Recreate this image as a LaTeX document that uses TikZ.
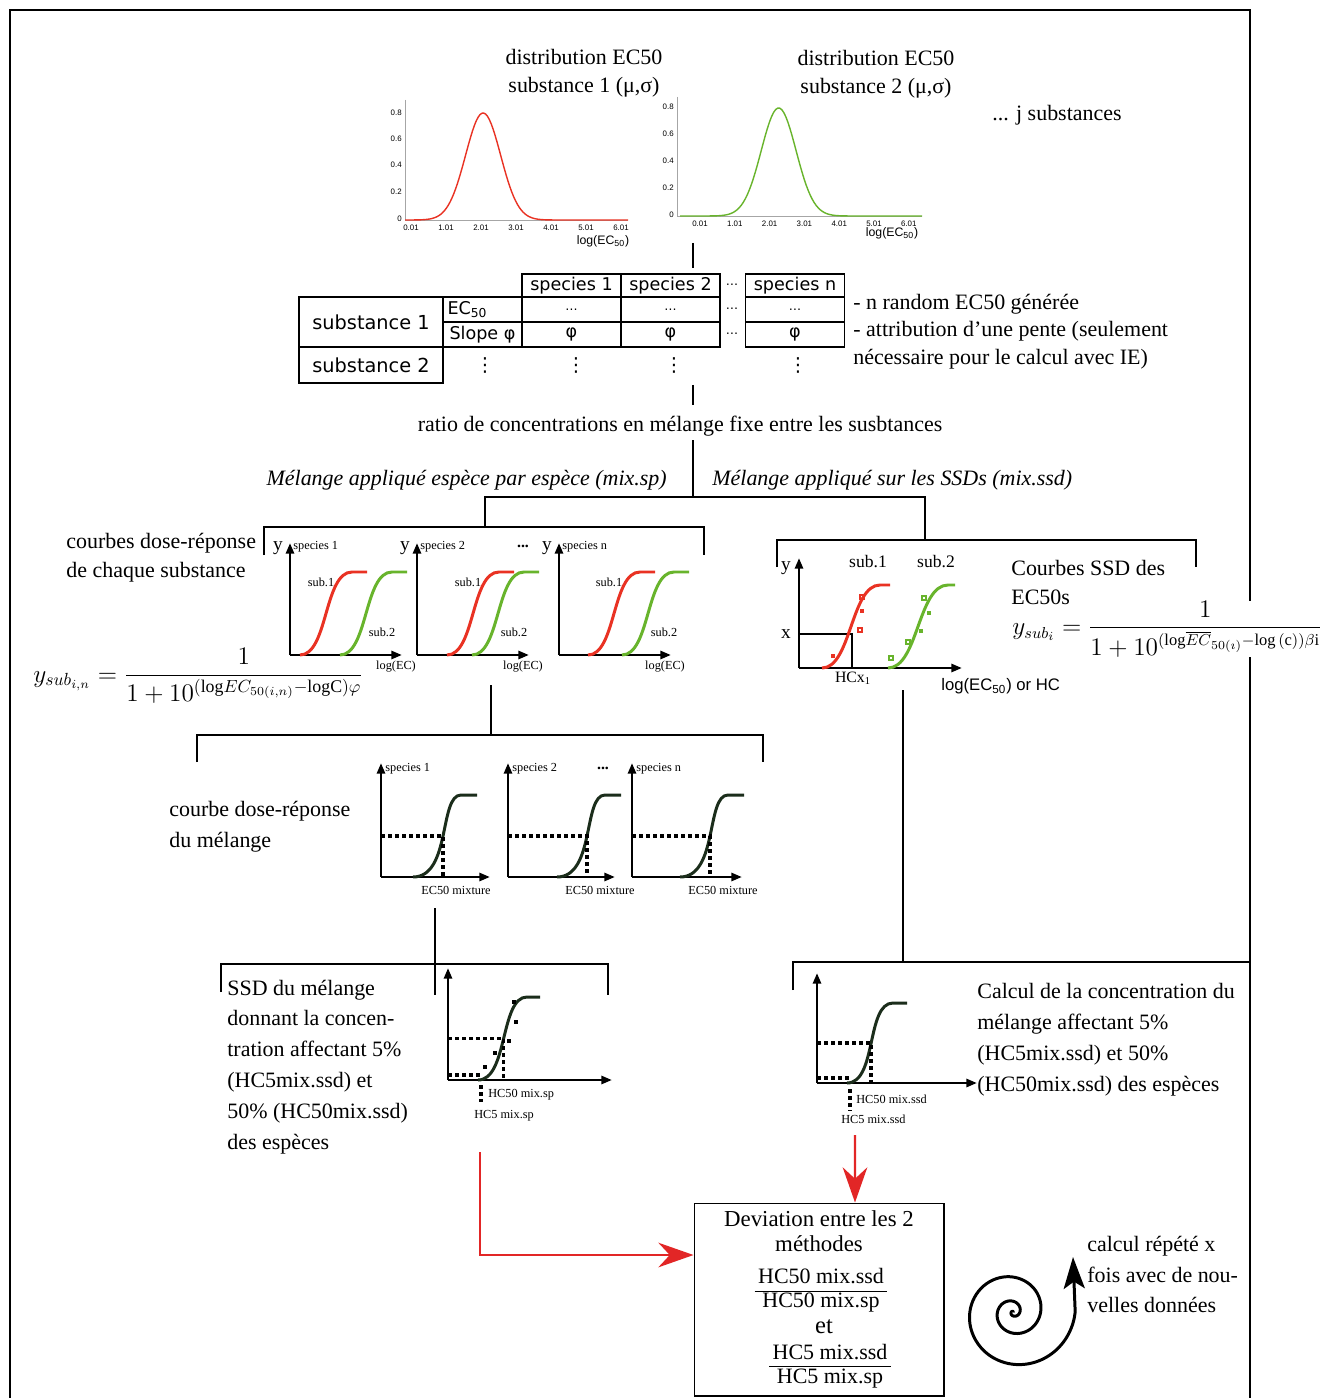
\documentclass[tikz,border=0pt]{standalone}
\usepackage{amsmath}
\usepackage{fontspec}
\setmainfont{Liberation Serif}
\setsansfont{DejaVu Sans}
\newfontfamily\arialf{Liberation Sans}
\usetikzlibrary{arrows.meta}

\definecolor{sigred}{RGB}{233,50,35}
\definecolor{siggreen}{RGB}{104,180,44}
\definecolor{darkcurve}{RGB}{27,45,27}
\definecolor{arrowred}{RGB}{226,38,38}

\tikzset{
  txt/.style={inner sep=0pt, align=left, font=\fontsize{12.5}{17.6}\selectfont},
  ttl/.style={inner sep=0pt, align=center, font=\fontsize{12.5}{16}\selectfont},
  tinylbl/.style={inner sep=0pt, font=\fontsize{7}{8}\selectfont},
  midlbl/.style={inner sep=0pt, font=\fontsize{10}{11}\selectfont},
  ylbl/.style={inner sep=0pt, font=\fontsize{11}{12}\selectfont},
  ticklbl/.style={inner sep=0pt, font=\arialf\fontsize{4.5}{5}\selectfont},
  cell/.style={draw, line width=0.6pt, inner sep=0pt, minimum width=1.98cm,
    font=\sffamily\fontsize{10}{12}\selectfont},
  axarrow/.style={line width=1.6pt, -{Triangle[length=6pt,width=4.5pt]}},
  sig/.style={line width=1.7pt},
  dotline/.style={line width=2pt, dash pattern=on 2pt off 2pt},
  conn/.style={line width=0.6pt},
  redarrow/.style={arrowred, line width=1.3pt, -{Stealth[length=20pt,width=14pt]}},
}

\begin{document}
\begin{tikzpicture}[x=0.02cm, y=-0.02cm]
\useasboundingbox (0,0) rectangle (1327,1398);
\fill[white] (0,0) rectangle (1327,1398);
% frame
\draw[conn] (10,1398) -- (10,10) -- (1250,10) -- (1250,1398);

% EC50 distributions
\node[ttl] (dist1) at (584,73) {distribution EC50\\substance 1 (μ,σ)};
\node[ttl] (dist2) at (876,74) {distribution EC50\\substance 2 (μ,σ)};
\node[txt] (jsub) at (1057,115) {... j substances};
\draw[gray!70, line width=0.4pt] (405,100) -- (405,220) -- (628,220);
\draw[sigred, line width=0.8pt] plot[domain=-0.17:6.2, samples=120]
  ({411+35*\x}, {220-107*exp(-((\x-2.06)^2)/0.5)});
\foreach \v/\yy in {0.8/113, 0.6/139, 0.4/165, 0.2/192, 0/219}
  \node[ticklbl, anchor=east] at (402,\yy) {\v};
\foreach \k in {0,...,6}
  \node[ticklbl] at (411+35*\k,228) {\k.01};
\node[inner sep=0pt, font=\arialf\fontsize{7}{8}\selectfont] (logA) at (603,241) {log(EC\textsubscript{50})};
\draw[gray!70, line width=0.4pt] (677,97) -- (677,216) -- (922,216);
\draw[siggreen, line width=0.8pt] plot[domain=-0.57:6.38, samples=120]
  ({700+34.8*\x}, {216-108*exp(-((\x-2.26)^2)/0.5)});
\foreach \v/\yy in {0.8/107, 0.6/134, 0.4/161, 0.2/188, 0/215}
  \node[ticklbl, anchor=east] at (674,\yy) {\v};
\foreach \k in {0,...,6}
  \node[ticklbl] at (700+34.8*\k,224) {\k.01};
\node[inner sep=0pt, font=\arialf\fontsize{7}{8}\selectfont] (logB) at (892,233) {log(EC\textsubscript{50})};

% table of generated values
\node[cell, minimum height=0.46cm] (hdA) at (571.5,285.5) {species 1};
\node[cell, minimum height=0.46cm] (hdB) at (670.5,285.5) {species 2};
\node[cell, minimum height=0.46cm] (hdN) at (795,285.5) {species n};
\node[cell, minimum width=2.88cm, minimum height=1cm, font=\sffamily\fontsize{11}{13}\selectfont] (subA) at (371,322) {substance 1};
\node[cell, minimum width=2.88cm, minimum height=0.72cm, font=\sffamily\fontsize{11}{13}\selectfont] (subB) at (371,365) {substance 2};
\node[cell, minimum width=1.58cm, minimum height=0.5cm, text width=1.4cm, align=left] (ecE) at (482.5,309.5) {EC\textsubscript{50}};
\node[cell, minimum width=1.58cm, minimum height=0.5cm] (slE) at (482.5,334.5) {Slope φ};
\foreach \cx/\cn in {571.5/A, 670.5/B, 795/N} {
  \node[cell, minimum height=0.5cm, font=\sffamily\fontsize{7}{8}\selectfont] (ec\cn) at (\cx,309.5) {…};
  \node[cell, minimum height=0.5cm] (sl\cn) at (\cx,334.5) {φ};
}
\foreach \yy/\cn in {285/h, 309/d, 334/p}
  \node[inner sep=0pt, font=\sffamily\fontsize{7}{8}\selectfont] (gap\cn) at (732,\yy) {…};
\foreach \cx/\cn in {485/E, 576/A, 674/B, 798/N}
  \node[inner sep=0pt, font=\sffamily\fontsize{11}{12}\selectfont] (vd\cn) at (\cx,365) {⋮};
\node[txt, anchor=west, font=\fontsize{12.5}{15.6}\selectfont] (notes) at (853,331.5)
  {- n random EC50 générée\\- attribution d’une pente (seulement\\nécessaire pour le calcul avec IE)};

% mixture ratio and the two methods
\node[txt] (ratio) at (680,426) {ratio de concentrations en mélange fixe entre les susbtances};
\node[txt, anchor=east, font=\itshape\fontsize{12.5}{15}\selectfont] (mixsp) at (667,480) {Mélange appliqué espèce par espèce (mix.sp)};
\node[txt, anchor=west, font=\itshape\fontsize{12.5}{15}\selectfont] (mixssd) at (712,480) {Mélange appliqué sur les SSDs (mix.ssd)};
\coordinate (jA) at (693,243); \coordinate (jB) at (693,268);
\coordinate (jC) at (693,385); \coordinate (jD) at (693,405);
\coordinate (jE) at (693,440); \coordinate (jF) at (693,497);
\coordinate (brL) at (485,497); \coordinate (brR) at (925,497);
\draw[conn] (jA) -- (jB);
\draw[conn] (jC) -- (jD);
\draw[conn] (jE) -- (jF);
\draw[conn] (485,527) -- (brL) -- (brR) -- (925,540);
\draw[conn] (264,555) -- (264,527) -- (704,527) -- (704,555);
\draw[conn] (777,567) -- (777,540) -- (1196,540) -- (1196,567);

% dose-response curves of each substance
\node[txt, font=\fontsize{12.5}{16.4}\selectfont, anchor=west] (drs) at (66,557.5) {courbes dose-réponse\\de chaque substance};
\foreach \ax/\rs/\gs/\sp in {290/300/340/1, 417/447/472/2, 559/588/622/n} {
  \draw[axarrow] (\ax,655) -- (\ax,543);
  \draw[axarrow] (\ax,655) -- (\ax+112,655);
  \draw[sig, sigred] (\rs,655) .. controls (\rs+28,655) and (\rs+24,572) .. (\rs+52,572) -- (\rs+67,572);
  \draw[sig, siggreen] (\gs,655) .. controls (\gs+28,655) and (\gs+24,572) .. (\gs+52,572) -- (\gs+67,572);
  \node[ylbl] (dy\sp) at (\ax-12,548) {y};
  \node[tinylbl, anchor=west] (dsp\sp) at (\ax+3,547) {species \sp};
  \node[tinylbl] (dr\sp) at (\rs+21,582) {sub.1};
  \node[tinylbl] (dg\sp) at (\gs+42,632) {sub.2};
  \node[tinylbl] (dx\sp) at (\ax+106,667) {log(EC)};
}
\node[inner sep=0pt, font=\bfseries\fontsize{9}{10}\selectfont] (ddots) at (523,546) {...};
\node[inner sep=0pt, anchor=west, font=\fontsize{14.5}{16}\selectfont] (fsp) at (33,676)
  {$y_{sub_{i,n}} = \dfrac{1}{1+10^{(\mathrm{log}EC_{50(i,n)}-\mathrm{logC})\varphi}}$};

% SSD of each substance
\draw[axarrow] (799,668) -- (799,558);
\draw[axarrow] (799,668) -- (962,668);
\draw[line width=0.7pt] (799,634) -| (852,668);
\draw[sig, sigred] (822,668) .. controls (851,668) and (851,585) .. (880,585) -- (890,585);
\draw[sig, siggreen] (888,668) .. controls (918,668) and (918,585) .. (948,585) -- (955,585);
\foreach \px/\py in {833/656, 862/611}
  \fill[sigred] (\px-2,\py-2) rectangle ++(4,4);
\foreach \px/\py in {862/597, 860/630}
  \draw[sigred, line width=0.7pt] (\px-2,\py-2) rectangle ++(4,4);
\foreach \px/\py in {921/631, 929/613}
  \fill[siggreen] (\px-2,\py-2) rectangle ++(4,4);
\foreach \px/\py in {891/658, 908/642, 924/598}
  \draw[siggreen, line width=0.7pt] (\px-2,\py-2) rectangle ++(4,4);
\node[ylbl] (sy) at (786,568) {y};
\node[ylbl] (sx) at (786,634) {x};
\node[midlbl] (ss1) at (868,562) {sub.1};
\node[midlbl] (ss2) at (936,562) {sub.2};
\node[inner sep=0pt, font=\fontsize{9}{10}\selectfont] (hcx) at (853,678) {HCx\textsubscript{1}};
\node[inner sep=0pt, anchor=west, font=\arialf\fontsize{9.5}{11}\selectfont] (slog) at (941,686) {log(EC\textsubscript{50}) or HC};
\node[inner sep=0pt, anchor=west, fill=white, font=\fontsize{13.4}{15}\selectfont] (fssd) at (1012,629)
  {$y_{sub_i} = \dfrac{1}{1+10^{(\mathrm{log}\overline{EC}_{50(\imath)}-\mathrm{log\,(c)})\beta\mathrm{i}}}$};
\node[txt, font=\fontsize{12.5}{16.4}\selectfont, anchor=west] (ssdt) at (1011,582.5) {Courbes SSD des\\EC50s};

% dose-response curve of the mixture
\draw[conn] (491,685) -- (491,735);
\draw[conn] (197,762) -- (197,735) -- (763,735) -- (763,762);
\node[txt, anchor=west] (drm) at (169,826.5) {courbe dose-réponse\\du mélange};
\foreach \ax/\cs/\xe/\sp in {381/413/490/1, 508/557/615/2, 632/680/742/n} {
  \draw[axarrow] (\ax,877) -- (\ax,763);
  \draw[axarrow] (\ax,877) -- (\xe,877);
  \draw[sig, darkcurve] (\cs,877) .. controls (\cs+38,877) and (\cs+26,795) .. (\cs+48,795) -- (\cs+64,795);
  \draw[dotline] (\ax,836) -- (\cs+30,836) -- (\cs+30,877);
  \node[tinylbl, anchor=west] (msp\sp) at (\ax+4,769) {species \sp};
  \node[tinylbl] (mec\sp) at (\cs+43,890) {EC50 mixture};
}
\node[inner sep=0pt, font=\bfseries\fontsize{9}{10}\selectfont] (mdots) at (603,768) {...};

% SSD of the mixture, per species
\draw[conn] (435,908) -- (435,995);
\draw[conn] (221,992) -- (221,964) -- (608,964) -- (608,995);
\node[txt, anchor=west] (ssdsp) at (227,1067)
  {SSD du mélange\\donnant la concen-\\tration affectant 5\%\\(HC5mix.ssd) et\\50\% (HC50mix.ssd)\\des espèces};
\draw[axarrow] (448,1080) -- (448,968);
\draw[axarrow] (448,1080) -- (612,1080);
\draw[sig, darkcurve] (478,1080) .. controls (508,1080) and (500,997) .. (527,997) -- (540,997);
\draw[dotline] (448,1038.5) -- (503.6,1038.5) -- (503.6,1080);
\draw[dotline] (448,1075) -- (481,1075);
\draw[dotline] (481,1085) -- (481,1102);
\foreach \px/\py in {514/1002, 516/1022, 509/1041, 495/1053, 485/1067}
  \fill (\px-2,\py-2) rectangle ++(4,4);
\node[tinylbl, anchor=west] (hc50sp) at (488,1095) {HC50 mix.sp};
\node[tinylbl, anchor=west] (hc5sp) at (474,1116) {HC5 mix.sp};

% SSD of the mixture, on the SSDs
\draw[conn] (903,690) -- (903,962);
\draw[conn] (793,990) -- (793,962) -- (1250,962);
\draw[axarrow] (817,1083) -- (817,973);
\draw[axarrow] (817,1083) -- (977,1083);
\draw[sig, darkcurve] (847,1083) .. controls (877,1083) and (866,1003) .. (893,1003) -- (907,1003);
\draw[dotline] (817,1043) -- (871,1043) -- (871,1083);
\draw[dotline] (817,1078) -- (850,1078);
\draw[dotline] (850,1089) -- (850,1111);
\node[tinylbl, anchor=west] (hc50ssd) at (856,1099) {HC50 mix.ssd};
\node[tinylbl, anchor=west] (hc5ssd) at (841,1119) {HC5 mix.ssd};
\node[txt, anchor=west] (calc) at (977,1039.5)
  {Calcul de la concentration du\\mélange affectant 5\%\\(HC5mix.ssd) et 50\%\\(HC50mix.ssd) des espèces};

% comparison of the two methods
\node[draw, line width=0.6pt, minimum width=5cm, minimum height=3.86cm, inner sep=0pt] (dev) at (819,1299.5) {};
\node[ttl, font=\fontsize{13}{14.2}\selectfont] (devt) at (819,1231) {Deviation entre les 2\\méthodes};
\node[inner sep=0pt, font=\fontsize{12.5}{14}\selectfont] (r50) at (821,1291)
  {\setlength{\tabcolsep}{2pt}\renewcommand{\arraystretch}{0.95}\begin{tabular}{c}HC50 mix.ssd\\\hline HC50 mix.sp\end{tabular}};
\node[inner sep=0pt, font=\fontsize{14}{15}\selectfont] (et) at (824,1327) {et};
\node[inner sep=0pt, font=\fontsize{12.5}{14}\selectfont] (r5) at (830,1366.5)
  {\setlength{\tabcolsep}{2pt}\renewcommand{\arraystretch}{0.95}\begin{tabular}{c}HC5 mix.ssd\\\hline HC5 mix.sp\end{tabular}};
\coordinate (ra) at (480,1152);
\coordinate (rb) at (855,1135);
\draw[redarrow] (ra) |- ([yshift=0.89cm]dev.west);
\draw[redarrow] (rb) -- ([xshift=0.72cm]dev.north);

% repetition
\draw[line width=1.7pt, -{Stealth[length=18pt,width=12pt,inset=4pt]}]
  plot[domain=0.5:18.85, samples=200, smooth] ({1013+0.175*\x*\x*cos(\x r)}, {1312-0.175*\x*\x*sin(\x r)})
  -- (1073,1257);
\node[txt, anchor=west] (rep) at (1087,1274.5) {calcul répété x\\fois avec de nou-\\velles données};
\end{tikzpicture}
\end{document}
